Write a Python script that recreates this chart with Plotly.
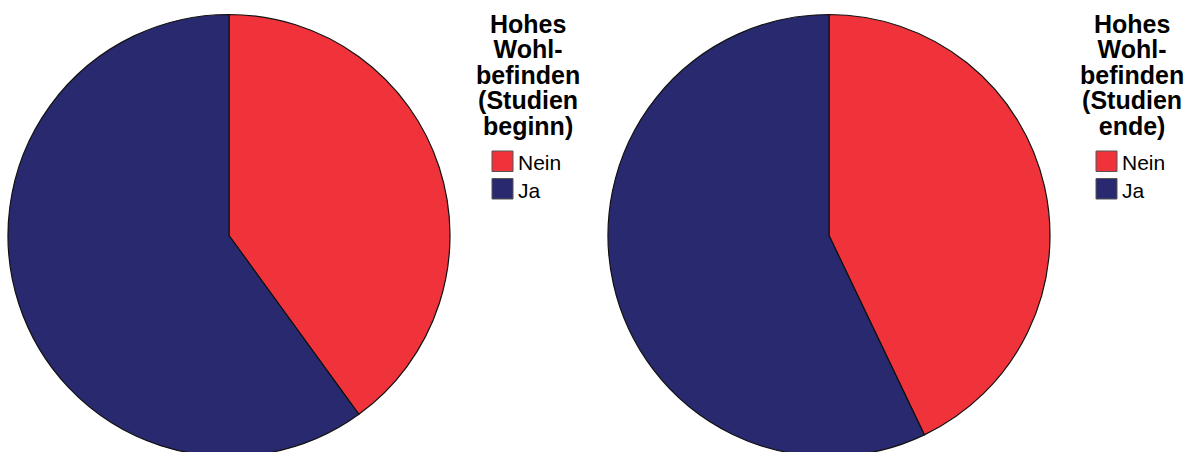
import plotly.graph_objects as go

# Anteile (Prozent) für "Hohes Wohlbefinden"
kategorien = ["Nein", "Ja"]
beginn_werte = [40.0, 60.0]
ende_werte = [42.9, 57.1]
farben = ["#F0333A", "#292970"]
titel_beginn = ["Hohes", "Wohl-", "befinden", "(Studien", "beginn)"]
titel_ende = ["Hohes", "Wohl-", "befinden", "(Studien", "ende)"]

W, H = 1194, 471


def px_x(x):
    return x / W


def px_y(y):
    return 1 - y / H


fig = go.Figure()
for werte, x0, x1 in [(beginn_werte, 8, 450), (ende_werte, 608, 1050)]:
    fig.add_trace(go.Pie(
        labels=kategorien,
        values=werte,
        sort=False,
        direction="clockwise",
        rotation=0,
        marker=dict(colors=farben, line=dict(color="#111111", width=1.2)),
        textinfo="none",
        hoverinfo="label+percent",
        showlegend=False,
        domain=dict(x=[px_x(x0), px_x(x1)], y=[0, 1]),
    ))

annotations = []
shapes = []
for titel, cx in [(titel_beginn, 528), (titel_ende, 1132)]:
    # Legendentitel: Zeilenabstand aus der Basisgröße (19.6 px * 1.3),
    # Glyphen über den Span auf 25 px vergrößert
    text = "<br>".join(
        '<span style="font-size:25px"><b>%s</b></span>' % z for z in titel
    )
    annotations.append(dict(
        text=text, x=px_x(cx), y=px_y(8), xref="paper", yref="paper",
        xanchor="center", yanchor="top", align="center", showarrow=False,
        font=dict(family="Arial", size=19.6, color="#000000"),
    ))
    # Legendeneinträge
    sx = cx - 36
    for j, (lab, col) in enumerate(zip(kategorien, farben)):
        top = 151 + j * 27.5
        shapes.append(dict(
            type="rect", xref="paper", yref="paper",
            x0=px_x(sx), x1=px_x(sx + 21), y0=px_y(top), y1=px_y(top + 20.5),
            fillcolor=col, line=dict(color="#555555", width=1),
        ))
        annotations.append(dict(
            text=lab, x=px_x(sx + 24), y=px_y(top + 12), xref="paper", yref="paper",
            xanchor="left", yanchor="middle", showarrow=False,
            font=dict(family="Arial", size=21, color="#000000"),
        ))

fig.update_layout(
    width=W, height=H,
    margin=dict(l=0, r=0, t=0, b=0),
    paper_bgcolor="#FFFFFF",
    plot_bgcolor="#FFFFFF",
    annotations=annotations,
    shapes=shapes,
)

fig.write_html(
    "out.html",
    post_script="document.body.style.margin='0';document.body.style.overflow='hidden';",
)
